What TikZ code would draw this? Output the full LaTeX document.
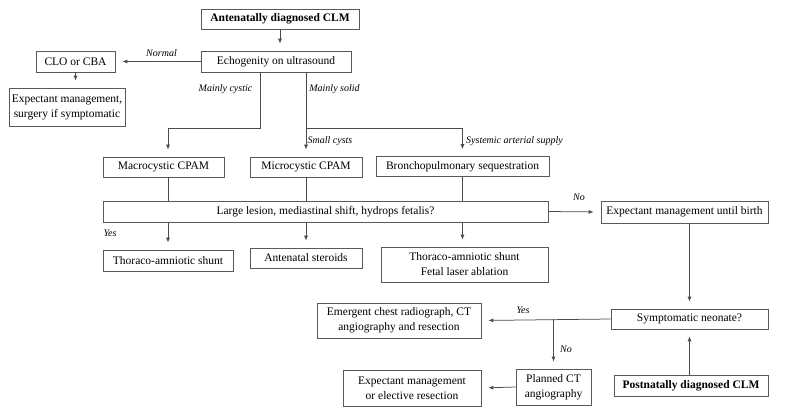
\documentclass[tikz,border=0pt]{standalone}
\usepackage{fontspec}
\setmainfont{Liberation Serif}
\usetikzlibrary{arrows.meta}

\begin{document}
\begin{tikzpicture}[x=1pt,y=-1pt,
  box/.style={draw=black!65,line width=0.6pt,inner sep=1pt,align=center,
    font=\fontsize{11.5}{15}\selectfont},
  boldbox/.style={box,font=\fontsize{11.5}{15}\selectfont\bfseries},
  lbl/.style={inner sep=0pt,font=\fontsize{10}{12}\selectfont\itshape},
  link/.style={draw=black!70,line width=0.75pt},
  arr/.style={link,-{Latex[length=5pt,width=4pt]},shorten >=7pt}]
\useasboundingbox (0,0) rectangle (785,413);
% antenatal part
\node[boldbox,minimum width=158pt,minimum height=20pt] (ante) at (280,19) {Antenatally diagnosed CLM};
\node[box,minimum width=150pt,minimum height=21pt] (echo) at (276,61.5) {Echogenity on ultrasound};
\node[box,minimum width=79pt,minimum height=21pt] (clo) at (75.5,61.5) {CLO or CBA};
\node[box,minimum width=116pt,minimum height=38pt] (expsurg) at (67,107) {Expectant management,\\surgery if symptomatic};
\node[box,minimum width=121pt,minimum height=20pt] (macro) at (163.5,167) {Macrocystic CPAM};
\node[box,minimum width=112pt,minimum height=20pt] (micro) at (306,167) {Microcystic CPAM};
\node[box,minimum width=173pt,minimum height=20pt] (bps) at (462.5,166.5) {Bronchopulmonary sequestration};
\node[box,minimum width=445pt,minimum height=21pt] (large) at (325.5,211.5) {Large lesion, mediastinal shift, hydrops fetalis?};
\node[box,minimum width=130pt,minimum height=21pt] (shunt) at (168,260.5) {Thoraco-amniotic shunt};
\node[box,minimum width=112pt,minimum height=20pt] (steroids) at (306,258) {Antenatal steroids};
\node[box,minimum width=167pt,minimum height=35pt] (laser) at (464.5,264.5) {Thoraco-amniotic shunt\\Fetal laser ablation};
\node[box,minimum width=167pt,minimum height=22pt] (birth) at (684.5,212) {Expectant management until birth};
% postnatal part
\node[box,minimum width=157pt,minimum height=20pt] (sympt) at (689.5,319) {Symptomatic neonate?};
\node[boldbox,minimum width=154pt,minimum height=21pt] (post) at (691,385.5) {Postnatally diagnosed CLM};
\node[box,minimum width=164pt,minimum height=35pt] (emerg) at (399,320.5) {Emergent chest radiograph, CT\\angiography and resection};
\node[box,minimum width=75pt,minimum height=36pt] (planned) at (553.5,387) {Planned CT\\angiography};
\node[box,minimum width=138pt,minimum height=36pt] (elective) at (412,388) {Expectant management\\or elective resection};
% branch points
\coordinate (cyst) at (260,128);
\coordinate (solid) at (306,128);
% connectors
\draw[arr] (ante.south) -- (ante.south |- echo.north);
\draw[arr] (echo.west) -- (clo.east);
\draw[arr] (clo.south) -- (expsurg.north -| clo.south);
\draw[arr] (echo.south -| cyst) -- (cyst) -| (shunt |- macro.north);
\draw[arr] (echo.south -| solid) -- (micro.north);
\draw[arr] (solid) -| (bps.north);
\draw[link] (macro.south -| shunt) -- (large.north -| shunt);
\draw[link] (micro.south) -- (large.north -| micro);
\draw[link] (bps.south) -- (large.north -| bps);
\draw[arr] (large.south -| shunt) -- (shunt.north);
\draw[arr] (large.south -| micro) -- (steroids.north);
\draw[arr] (large.south -| bps) -- (laser.north -| bps);
\draw[arr] (large.east) -- (birth.west);
\draw[arr] (birth.south -| sympt) -- (sympt.north);
\draw[arr] (post.north -| sympt) -- (sympt.south);
\draw[arr] (sympt.west) -- (emerg.east);
\draw[arr] (sympt.west -| planned) -- (planned.north);
\draw[arr] (planned.west) -- (elective.east);
% edge labels
\node[lbl] (lnormal) at (161.5,53) {Normal};
\node[lbl] (lcyst) at (225.5,89) {Mainly cystic};
\node[lbl] (lsolid) at (334.5,89) {Mainly solid};
\node[lbl] (lsmall) at (330,141) {Small cysts};
\node[lbl] (lsys) at (514.5,141) {Systemic arterial supply};
\node[lbl] (lyes) at (110,233) {Yes};
\node[lbl] (lno) at (579,197) {No};
\node[lbl] (lyes2) at (523,310) {Yes};
\node[lbl] (lno2) at (566,349) {No};
\end{tikzpicture}
\end{document}
